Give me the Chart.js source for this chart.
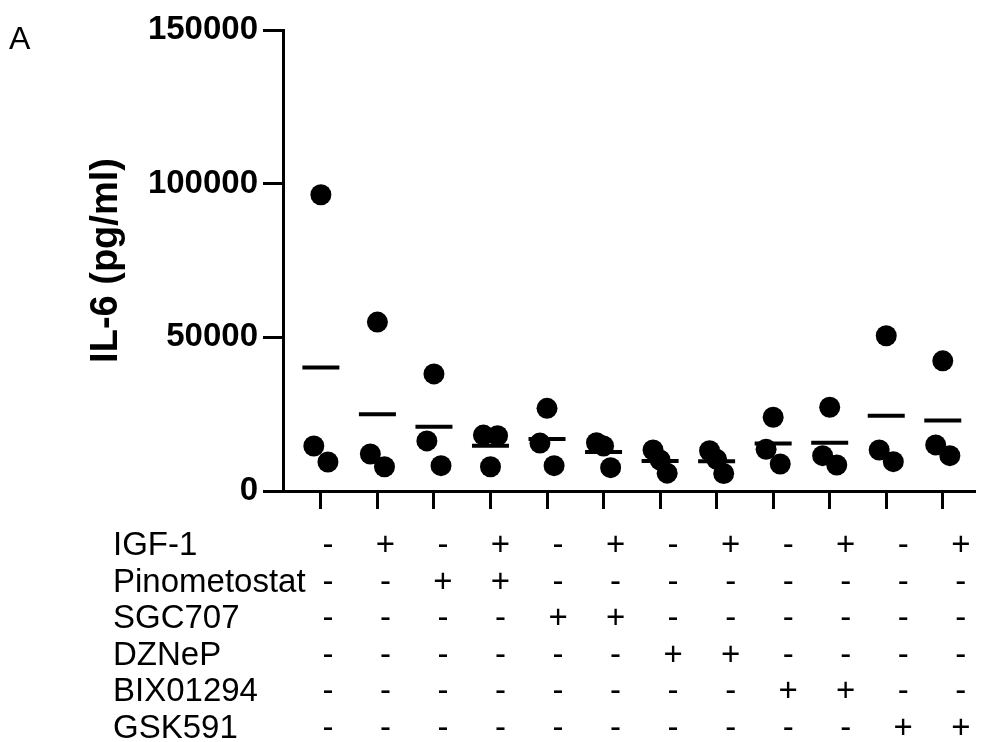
<!DOCTYPE html>
<html><head><meta charset="utf-8">
<script src="https://cdn.jsdelivr.net/npm/chart.js@4.4.1/dist/chart.umd.min.js"></script>
<style>html,body{margin:0;padding:0;background:#fff}#wrap{width:982px;height:742px;position:relative}</style>
</head><body><div id="wrap"><canvas id="c" width="982" height="742"></canvas></div>
<script>
// ---- data ----
const groups = [1,2,3,4,5,6,7,8,9,10,11,12];
const rep1 = [96400, 54950, 38100, 18200, 26900, 15700, 13350, 13100, 24000, 27250, 50500, 42350];
const rep2 = [14650, 12050, 16300, 18000, 15600, 14650, 10100, 10300, 13600, 11500, 13350, 15000];
const rep3 = [ 9450,  7900,  8250,  7900,  8250,  7600,  5800,  5700,  8800,  8450,  9550, 11500];
const yTicks = [0, 50000, 100000, 150000];
const rowLabels = ['IGF-1','Pinometostat','SGC707','DZNeP','BIX01294','GSK591'];
const igf1         = ['-','+','-','+','-','+','-','+','-','+','-','+'];
const pinometostat = ['-','-','+','+','-','-','-','-','-','-','-','-'];
const sgc707       = ['-','-','-','-','+','+','-','-','-','-','-','-'];
const dznep        = ['-','-','-','-','-','-','+','+','-','-','-','-'];
const bix01294     = ['-','-','-','-','-','-','-','-','+','+','-','-'];
const gsk591       = ['-','-','-','-','-','-','-','-','-','-','+','+'];
const signRows = [igf1, pinometostat, sgc707, dznep, bix01294, gsk591];

// ---- build points (scatter with small horizontal spread, like the original) ----
const J = 0.125;
const pts = [];
const means = [];
groups.forEach((g, i) => {
  const v = [rep1[i], rep2[i], rep3[i]].sort((a,b)=>b-a);
  const d = v[0] - v[1];
  let offs;
  if (d < 1000) offs = [-J, J, 0];
  else if (d < 6000) offs = [-J, 0, J];
  else offs = [0, -J, J];
  v.forEach((val, k) => pts.push({x: g + offs[k], y: val}));
  means.push({x: g, y: (rep1[i] + rep2[i] + rep3[i]) / 3});
});

const FONT = '"Liberation Sans", Arial, Helvetica, sans-serif';

const tablePlugin = {
  id: 'tablePlugin',
  afterDraw(chart) {
    const ctx = chart.ctx;
    const xs = chart.scales.x;
    const base = chart.chartArea.bottom;
    ctx.save();
    ctx.fillStyle = '#000';
    ctx.textBaseline = 'middle';
    ctx.font = '33px ' + FONT;
    rowLabels.forEach((lab, r) => {
      const y = base + 55 + r * 36.6;
      ctx.textAlign = 'left';
      ctx.fillText(lab, 113, y);
      ctx.textAlign = 'center';
      signRows[r].forEach((s, i) => {
        const x = xs.getPixelForValue(groups[i]) + 7 + i * 1.0;
        ctx.fillText(s, x, y);
      });
    });
    ctx.textAlign = 'left';
    ctx.font = '32px ' + FONT;
    ctx.fillText('A', 9, 40);
    ctx.restore();
  }
};

new Chart(document.getElementById('c'), {
  type: 'scatter',
  data: {
    datasets: [
      { label: 'values', data: pts, pointRadius: 10.5, pointHoverRadius: 10.5, borderWidth: 0,
        backgroundColor: '#000', borderColor: '#000', order: 2 },
      { label: 'mean', data: means, pointStyle: 'line', pointRadius: 18.5, pointHoverRadius: 18.5,
        borderWidth: 4, borderColor: '#000', backgroundColor: '#000', order: 1 }
    ]
  },
  options: {
    responsive: false,
    animation: false,
    events: [],
    layout: { autoPadding: false, padding: { left: 0, right: 7, top: 30, bottom: 0 } },
    plugins: { legend: { display: false }, tooltip: { enabled: false } },
    scales: {
      x: {
        type: 'linear', min: 0.33, max: 12.57,
        afterBuildTicks: s => { s.ticks = groups.map(v => ({ value: v })); },
        afterFit: s => { s.height = 251; s.paddingLeft = 0; s.paddingRight = 0; },
        ticks: { display: false },
        grid: { drawOnChartArea: false, drawTicks: true, tickLength: 18, tickWidth: 3, color: '#000' },
        border: { display: true, color: '#000', width: 3 }
      },
      y: {
        type: 'linear', min: 0, max: 150000,
        afterBuildTicks: s => { s.ticks = yTicks.map(v => ({ value: v })); },
        afterFit: s => { s.width = 283; },
        ticks: { color: '#000', padding: 5, font: { family: FONT, size: 33, weight: 'bold' },
                 callback: v => String(v) },
        grid: { drawOnChartArea: false, drawTicks: true, tickLength: 20, tickWidth: 3, color: '#000' },
        border: { display: true, color: '#000', width: 3 },
        title: { display: true, text: 'IL-6 (pg/ml)', color: '#000',
                 font: { family: FONT, size: 38, weight: 'bold' }, padding: { top: 84, bottom: 0 } }
      }
    }
  },
  plugins: [tablePlugin]
});
</script>
</body></html>
